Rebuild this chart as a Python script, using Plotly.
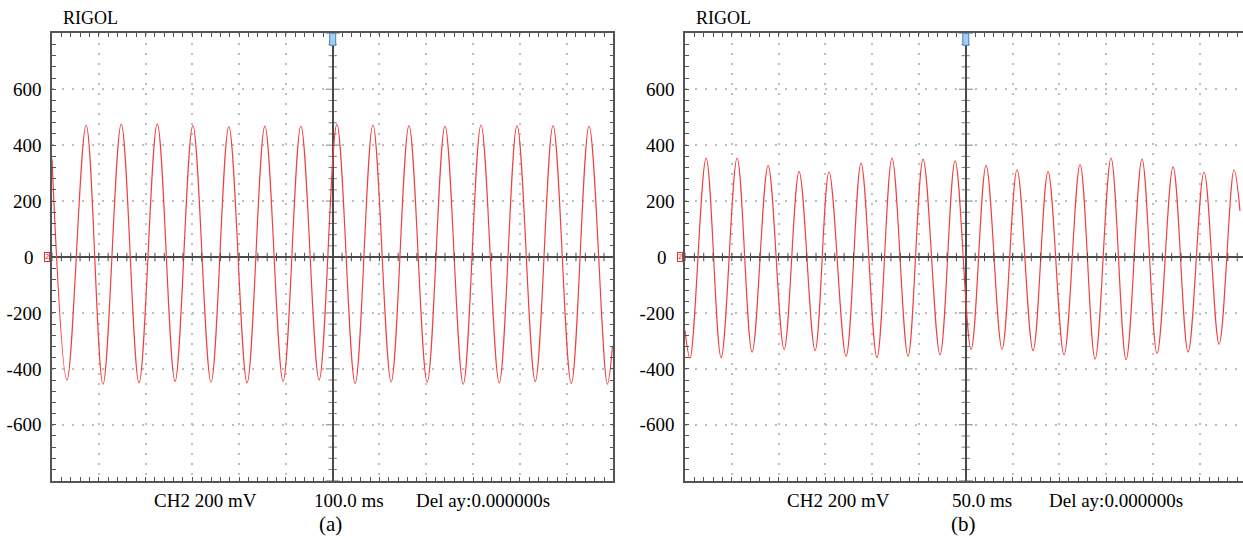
import numpy as np
import plotly.graph_objects as go

W, H = 1243, 540

# ---- waveform (a): 100 ms/div, extrema read from the capture (ms, mV) ----
t_a = [-600, -568, -527, -491, -452, -414, -375, -337, -299, -260, -222, -183, -145,
       -106, -68, -29, 9, 48, 86, 125, 163, 202, 240, 279, 317, 356, 394, 433, 471,
       510, 548, 587, 598]
v_a = [350, -440, 472, -455, 475, -450, 476, -445, 470, -448, 466, -450, 468, -445,
       468, -440, 474, -452, 472, -447, 470, -448, 468, -455, 472, -450, 470, -445,
       470, -452, 468, -455, -320]

# ---- waveform (b): 50 ms/div ----
t_b = [-300, -294.6, -277.4, -261.4, -244.3, -228.3, -211.2, -194.1, -178.1, -161.0,
       -146.1, -127.9, -111.9, -94.9, -78.8, -61.7, -45.6, -27.5, -11.4, 5.7, 21.7,
       38.8, 54.8, 71.9, 87.9, 105.0, 122.1, 138.2, 155.2, 171.3, 188.3, 204.4, 221.5,
       237.6, 254.6, 270.7, 286.6, 293]
v_b = [-262, -362, 354, -360, 354, -340, 327, -330, 305, -335, 304, -355, 336, -360,
       354, -355, 350, -350, 344, -330, 327, -330, 312, -335, 305, -350, 330, -365,
       354, -367, 350, -345, 322, -340, 304, -312, 312, 165]

y_ticks = [-600, -400, -200, 200, 400, 600]
panel_labels = ["(a)", "(b)"]
timebase = ["100.0 ms", "50.0 ms"]
channel = "CH2 200 mV"
delay = "Del ay:0.000000s"

FONT = "Times New Roman, Liberation Serif, DejaVu Serif, serif"
TRACE = "#f04040"
BORDER = "#555555"
GRID = "#bdbdbd"
CENTER = "#4a4a4a"


def px(x):
    return x / W


def py(y):
    return 1 - y / H


YDOM = [py(480.7), py(33.3)]
panels = [
    dict(xd=[px(52), px(613.4)], xr=[-600, 600], div=100, t=t_a, v=v_a, xa="x", ya="y",
         mirror_y=True, xc=332.7),
    dict(xd=[px(685), 1.0], xr=[-300, 296.2], div=50, t=t_b, v=v_b, xa="x2", ya="y2",
         mirror_y=False, xc=965.7),
]

fig = go.Figure()
layout = dict(width=W, height=H, margin=dict(l=0, r=0, t=0, b=0),
              paper_bgcolor="white", plot_bgcolor="white", showlegend=False,
              font=dict(family=FONT, color="black"))
annotations = []
shapes = []

for i, p in enumerate(panels):
    sfx = "" if i == 0 else str(i + 1)
    div = p["div"]
    # the captured trace
    fig.add_trace(go.Scatter(x=p["t"], y=p["v"], mode="lines",
                             line=dict(color=TRACE, width=1.2, shape="spline", smoothing=1.0),
                             xaxis=p["xa"], yaxis=p["ya"], hoverinfo="skip"))
    # tick marks on the centre cross-hair
    xm = np.arange(-6 * div, 6 * div + 1e-9, div / 5)
    fig.add_trace(go.Scatter(x=xm, y=np.zeros_like(xm), mode="markers",
                             marker=dict(symbol="line-ns", size=6,
                                         line=dict(color=CENTER, width=1)),
                             xaxis=p["xa"], yaxis=p["ya"], hoverinfo="skip"))
    ym = np.arange(-800, 801, 40)
    fig.add_trace(go.Scatter(x=np.zeros_like(ym), y=ym, mode="markers",
                             marker=dict(symbol="line-ew",
                                         size=[10 if v % 200 == 0 else 6 for v in ym],
                                         line=dict(color=CENTER, width=1)),
                             xaxis=p["xa"], yaxis=p["ya"], hoverinfo="skip"))

    layout["xaxis" + sfx] = dict(
        domain=p["xd"], range=p["xr"], anchor=p["ya"],
        tickvals=list(np.arange(-5 * div, 5 * div + 1, div)), showticklabels=False,
        ticks="inside", ticklen=4, tickwidth=1, tickcolor=BORDER,
        showgrid=True, gridcolor=GRID, griddash="2px,8px", gridwidth=1.5,
        zeroline=True, zerolinecolor=CENTER, zerolinewidth=1.5,
        showline=True, linecolor=BORDER, linewidth=1.5, mirror="ticks",
        minor=dict(dtick=div / 5, ticks="inside", ticklen=4, tickcolor=BORDER,
                   tickwidth=1, showgrid=False),
        fixedrange=True)
    layout["yaxis" + sfx] = dict(
        domain=YDOM, range=[-800, 800], anchor=p["xa"],
        tickvals=y_ticks, ticktext=[str(v) for v in y_ticks],
        tickfont=dict(family=FONT, size=19, color="black"), ticklabelstandoff=5,
        ticks="inside", ticklen=4, tickwidth=1, tickcolor=BORDER,
        showgrid=True, gridcolor=GRID, griddash="2px,8px", gridwidth=1.5,
        zeroline=True, zerolinecolor=CENTER, zerolinewidth=1.5,
        showline=True, linecolor=BORDER, linewidth=1.5,
        mirror="ticks" if p["mirror_y"] else False,
        minor=dict(dtick=40, ticks="inside", ticklen=4, tickcolor=BORDER,
                   tickwidth=1, showgrid=False),
        fixedrange=True)

    x0 = p["xd"][0] * W
    xc = p["xc"]
    txt = dict(family=FONT, size=19, color="black")
    # header and bottom status line
    annotations.append(dict(text="RIGOL", xref="paper", yref="paper", x=px(x0 + 9),
                            y=py(18), xanchor="left", yanchor="middle", showarrow=False,
                            font=dict(family=FONT, size=18, color="black")))
    annotations.append(dict(text="0", xref="paper", yref=p["ya"], x=px(x0 - 16), y=0,
                            xanchor="right", yanchor="middle", showarrow=False, font=txt))
    annotations.append(dict(text=channel, xref="paper", yref="paper", x=px(xc - 127),
                            y=py(500), xanchor="center", yanchor="middle", showarrow=False,
                            font=txt))
    annotations.append(dict(text=timebase[i], xref="paper", yref="paper", x=px(xc + 16),
                            y=py(500), xanchor="center", yanchor="middle", showarrow=False,
                            font=txt))
    annotations.append(dict(text=delay, xref="paper", yref="paper", x=px(xc + 150),
                            y=py(500), xanchor="center", yanchor="middle", showarrow=False,
                            font=txt))
    annotations.append(dict(text=panel_labels[i], xref="paper", yref="paper", x=px(xc - 2),
                            y=py(524), xanchor="center", yanchor="middle", showarrow=False,
                            font=dict(family=FONT, size=21, color="black")))
    # channel-2 ground marker and trigger-position marker
    annotations.append(dict(text="2", xref="paper", yref=p["ya"], x=px(x0 - 2), y=0,
                            xanchor="right", yanchor="middle", showarrow=False,
                            font=dict(family="DejaVu Sans", size=7, color="#e03030"),
                            bordercolor="#e03030", borderwidth=1, borderpad=0,
                            bgcolor="white"))
    shapes.append(dict(type="rect", xref=p["xa"], yref=p["ya"],
                       xsizemode="pixel", ysizemode="pixel", xanchor=0, yanchor=800,
                       x0=-3, x1=3, y0=-12, y1=0,
                       line=dict(color="#3b82c4", width=1), fillcolor="#a9cdf0"))

layout["annotations"] = annotations
layout["shapes"] = shapes
fig.update_layout(**layout)
fig.write_html("out.html")
